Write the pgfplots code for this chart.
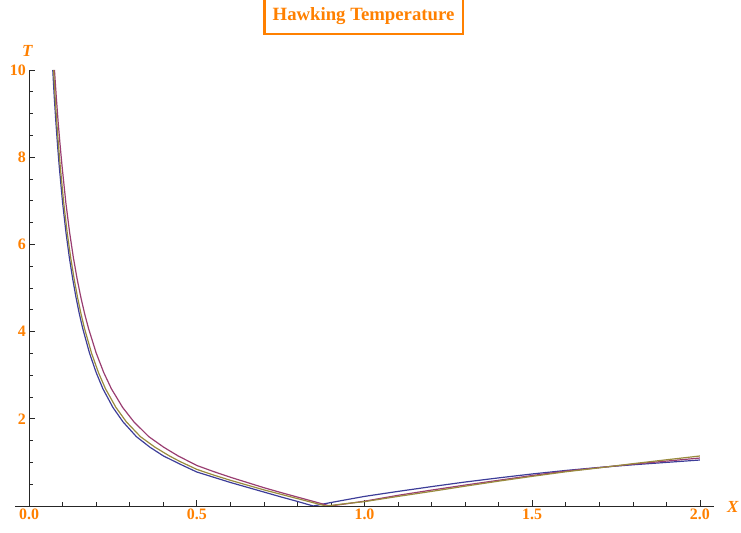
\documentclass[border=0pt]{standalone}
\usepackage{fontspec}
\setmainfont{Liberation Serif}
\usepackage{pgfplots}
\pgfplotsset{compat=1.18}
\definecolor{mOrange}{rgb}{1,0.5,0}
\definecolor{c1}{rgb}{0.24,0.24,0.6}
\definecolor{c2}{rgb}{0.6,0.24,0.4427}
\definecolor{c3}{rgb}{0.6,0.547,0.24}
\begin{document}
\begin{tikzpicture}
\useasboundingbox (-15bp,-27bp) rectangle (726bp,506bp);
\begin{axis}[
  scale only axis,
  width=699bp, height=436bp,
  xmin=-0.042, xmax=2.042, ymin=0, ymax=10,
  axis x line=bottom,
  axis y line=middle,
  hide obscured x ticks=false,
  axis line style={-, black!85, line width=0.6bp},
  every inner x axis line/.append style={-},
  every inner y axis line/.append style={-},
  every outer x axis line/.append style={-},
  xtick={0,0.5,1,1.5,2},
  xticklabels={0.0,0.5,1.0,1.5,2.0},
  ytick={0,2,4,6,8,10},
  yticklabels={,2,4,6,8,10},
  minor x tick num=4,
  minor y tick num=3,
  tick align=inside,
  major tick length=6bp,
  minor tick length=3.5bp,
  tick style={black!85, line width=0.6bp},
  ticklabel style={font=\fontsize{16}{16}\selectfont\bfseries, text=mOrange},
  xticklabel style={inner sep=3bp},
  yticklabel style={inner sep=3bp},
  title={Hawking Temperature},
  title style={at={(0.5,1)}, anchor=south, yshift=29bp, xshift=-1bp,
    draw=mOrange, line width=2.5bp, text=mOrange,
    font=\fontsize{18.8}{18.8}\selectfont\bfseries,
    minimum width=198.5bp, minimum height=35.5bp, inner sep=0pt},
  xlabel={\textbf{\textit{X}}},
  ylabel={\textbf{\textit{T}}},
  every axis x label/.style={at={(axis cs:2,0)}, anchor=center, xshift=33bp, yshift=-0.7bp,
    font=\fontsize{17}{17}\selectfont, text=mOrange},
  every axis y label/.style={at={(axis cs:0,10)}, anchor=center, xshift=-1.5bp, yshift=19bp,
    font=\fontsize{17}{17}\selectfont, text=mOrange},
  clip=true,
]
\addplot[c1, line width=1.2bp] coordinates {
(0.0706,10.0) (0.075,9.39) (0.08,8.79) (0.085,8.26) (0.09,7.78) (0.10,6.95)
(0.11,6.27) (0.12,5.70) (0.13,5.21) (0.14,4.78) (0.15,4.40) (0.16,4.07)
(0.18,3.51) (0.20,3.06) (0.22,2.69) (0.25,2.26) (0.28,1.93) (0.32,1.59)
(0.36,1.35) (0.40,1.15) (0.45,0.96) (0.50,0.78)
(0.55,0.66) (0.60,0.54) (0.65,0.43) (0.70,0.32) (0.75,0.21) (0.80,0.105)
(0.847,0) (0.90,0.08) (0.95,0.15) (1.0,0.22) (1.1,0.335) (1.2,0.445)
(1.3,0.55) (1.4,0.645) (1.5,0.735) (1.6,0.815) (1.7,0.885) (1.8,0.945)
(1.9,1.0) (2.0,1.055)
};
\addplot[c2, line width=1.2bp] coordinates {
(0.0757,10.0) (0.0810,9.39) (0.0868,8.79) (0.0927,8.26) (0.0985,7.78)
(0.1097,6.95) (0.1209,6.27) (0.1320,5.70) (0.1432,5.21) (0.1545,4.78)
(0.1659,4.40) (0.1773,4.07) (0.2000,3.51) (0.2226,3.06) (0.2453,2.69)
(0.2790,2.26) (0.3125,1.93) (0.357,1.59) (0.401,1.35) (0.444,1.15)
(0.50,0.93) (0.55,0.79) (0.60,0.66) (0.65,0.54) (0.70,0.42) (0.75,0.31)
(0.80,0.205) (0.85,0.1)
(0.897,0) (0.95,0.055) (1.0,0.11) (1.1,0.245) (1.2,0.365) (1.3,0.48)
(1.4,0.59) (1.5,0.70) (1.6,0.80) (1.7,0.88) (1.8,0.96) (1.9,1.03) (2.0,1.10)
};
\addplot[c3, line width=1.2bp] coordinates {
(0.073,10.0) (0.0775,9.39) (0.0826,8.79) (0.0878,8.26) (0.0930,7.78)
(0.1033,6.95) (0.1136,6.27) (0.124,5.70) (0.1343,5.21) (0.1446,4.78)
(0.155,4.40) (0.1653,4.07) (0.186,3.51) (0.2068,3.06) (0.2277,2.69)
(0.259,2.26) (0.290,1.93) (0.332,1.59) (0.375,1.35) (0.418,1.15)
(0.45,1.02) (0.50,0.84)
(0.55,0.71) (0.60,0.59) (0.65,0.48) (0.70,0.37) (0.75,0.27) (0.80,0.17)
(0.85,0.07) (0.885,0) (0.95,0.06) (1.0,0.10) (1.1,0.22) (1.2,0.335)
(1.3,0.455) (1.4,0.57) (1.5,0.68) (1.6,0.785) (1.7,0.875) (1.8,0.97)
(1.9,1.06) (2.0,1.147)
};
\end{axis}
\end{tikzpicture}
\end{document}
